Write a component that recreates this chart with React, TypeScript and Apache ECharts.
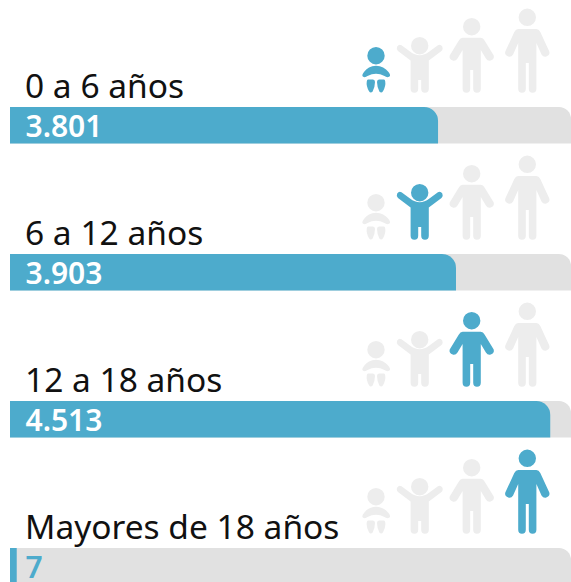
import React, { useEffect, useRef } from "react";
import * as echarts from "echarts";

const groups = ["0 a 6 años", "6 a 12 años", "12 a 18 años", "Mayores de 18 años"];
const valueLabels = ["3.801", "3.903", "4.513", "7"];
// Drawn bar length, as a share of the grey track (the source is not proportional)
const barShare = [76.3, 79.5, 96.3, 1.2];
const activeFigure = [0, 1, 2, 3];

const BLUE = "#4dabcc";
const TRACK = "#e1e1e1";
const FIGURE = "#ededed";
const FONT = "'Noto Sans', sans-serif";

const circle = (cx: number, cy: number, r: number) =>
  `M${cx - r} ${cy}A${r} ${r} 0 1 1 ${cx + r} ${cy}A${r} ${r} 0 1 1 ${cx - r} ${cy}Z`;

// A standing figure, symmetric about cx, with its feet at y = 92.7
const standing = (cx: number, top: number, handY: number, handDx: number, armpitY: number, gapTop: number) => {
  const B = 92.7;
  const t = 9.1; // half torso width
  const g = 1.5; // half leg gap
  const side = (s: number) => ({
    shoulder: cx + s * 9,
    corner: cx + s * 13,
    t: cx + s * t,
    g: cx + s * g,
    leg: cx + s * ((t + g) / 2),
  });
  const r = side(1);
  const l = side(-1);
  const hr = 4;
  return (
    `M${l.shoulder} ${top}H${r.shoulder}Q${cx + 11.5} ${top} ${r.corner} ${top + 3}` +
    `L${cx + handDx + hr} ${handY - 5}Q${cx + handDx + hr + 1} ${handY - 1.5} ${cx + handDx + 1} ${handY}` +
    `Q${cx + handDx - 2} ${handY + 0.8} ${cx + handDx - 3.8} ${handY - 2}L${r.t} ${armpitY}` +
    `V${B - 4}Q${r.t} ${B} ${r.leg} ${B}Q${r.g} ${B} ${r.g} ${B - 4}V${gapTop}H${l.g}` +
    `V${B - 4}Q${l.g} ${B} ${l.leg} ${B}Q${l.t} ${B} ${l.t} ${B - 4}V${armpitY}` +
    `L${cx - handDx + 3.8} ${handY - 2}Q${cx - handDx + 2} ${handY + 0.8} ${cx - handDx - 1} ${handY}` +
    `Q${cx - handDx - hr - 1} ${handY - 1.5} ${cx - handDx - hr} ${handY - 5}` +
    `L${l.corner} ${top + 3}Q${cx - 11.5} ${top} ${l.shoulder} ${top}Z`
  );
};

const babyPath =
  circle(376, 55.7, 8.7) +
  "M364 72Q368 66 376 65.7Q384 66 388.5 72Q391 75 389.5 76.5Q387 78 384.5 76Q376 71.5 367.5 76Q365 78 362.8 76.5Q361.5 75 364 72Z" +
  "M368 79.5H373Q375 79.5 375 82Q375 87 372.5 91.8Q370.5 93.6 369 91.3Q366 86 366.8 81.3Q367 79.8 368 79.5Z" +
  "M384 79.5H379Q377 79.5 377 82Q377 87 379.5 91.8Q381.5 93.6 383 91.3Q386 86 385.2 81.3Q385 79.8 384 79.5Z";

const childPath =
  circle(419.7, 45.7, 8.7) +
  "M401.5 45.3L410 51.5Q419.7 59 429.4 51.5L437.9 45.3Q440.5 43.8 442.3 46.5Q443.5 49 441.5 51L428.8 60.5V88.7Q428.8 92.7 425 92.7Q421.2 92.7 421.2 88.7V80H418.2V88.7Q418.2 92.7 414.4 92.7Q410.6 92.7 410.6 88.7V60.5L398 51Q396 49 397.2 46.5Q399 43.8 401.5 45.3Z";

const teenPath = circle(471.7, 26.7, 8.7) + standing(471.7, 37.7, 60.5, 18, 50, 70);
const adultPath = circle(527.3, 17.3, 8.7) + standing(527.3, 29, 56.5, 18, 43, 63);
const figures = [babyPath, childPath, teenPath, adultPath];

export default function App() {
  const ref = useRef<HTMLDivElement>(null);

  useEffect(() => {
    document.body.style.margin = "0";
    const chart = echarts.init(ref.current!, null, { renderer: "svg" });
    chart.setOption({
      animation: false,
      backgroundColor: "#ffffff",
      grid: { left: 10, right: 0, top: 51.75, height: 588 },
      xAxis: { type: "value", min: 0, max: 100, show: false },
      yAxis: {
        type: "category",
        inverse: true,
        data: groups,
        axisLine: { show: false },
        axisTick: { show: false },
        splitLine: { show: false },
        axisLabel: {
          inside: true,
          margin: 15,
          align: "left",
          verticalAlign: "bottom",
          padding: [0, 0, 23.5, 0],
          color: "#111111",
          fontSize: 33.5,
          fontFamily: FONT,
        },
      },
      series: [
        {
          type: "bar",
          barWidth: 36.5,
          showBackground: true,
          backgroundStyle: { color: TRACK, borderRadius: [0, 12, 0, 0] },
          itemStyle: { color: BLUE, borderRadius: [0, 14, 0, 0] },
          data: barShare.map((v, i) => ({
            value: v,
            itemStyle: i === 3 ? { borderRadius: 0 } : undefined,
            label: i === 3 ? { color: BLUE } : undefined,
          })),
          label: {
            show: true,
            position: [15.5, "50%"],
            verticalAlign: "middle",
            fontSize: 30,
            fontWeight: 600,
            lineHeight: 30,
            fontFamily: FONT,
            formatter: (p: any) => valueLabels[p.dataIndex],
            color: "#ffffff",
          },
        },
        {
          type: "custom",
          silent: true,
          encode: { x: 0, y: 1 },
          data: groups.map((_, i) => [0, i]),
          renderItem: (_p: any, api: any) => {
            const row = api.value(1);
            const [x0, yc] = api.coord([0, row]);
            return {
              type: "group",
              x: x0 - 10,
              y: yc - 125.25,
              children: figures.map((d, k) => ({
                type: "path",
                shape: { pathData: d },
                style: { fill: activeFigure[row] === k ? BLUE : FIGURE },
              })),
            };
          },
        },
      ],
    });
    return () => chart.dispose();
  }, []);

  return (
    <div style={{ position: "absolute", left: 0, top: 0, width: 571, height: 582, overflow: "hidden" }}>
      <div ref={ref} style={{ width: 571, height: 660 }} />
    </div>
  );
}
